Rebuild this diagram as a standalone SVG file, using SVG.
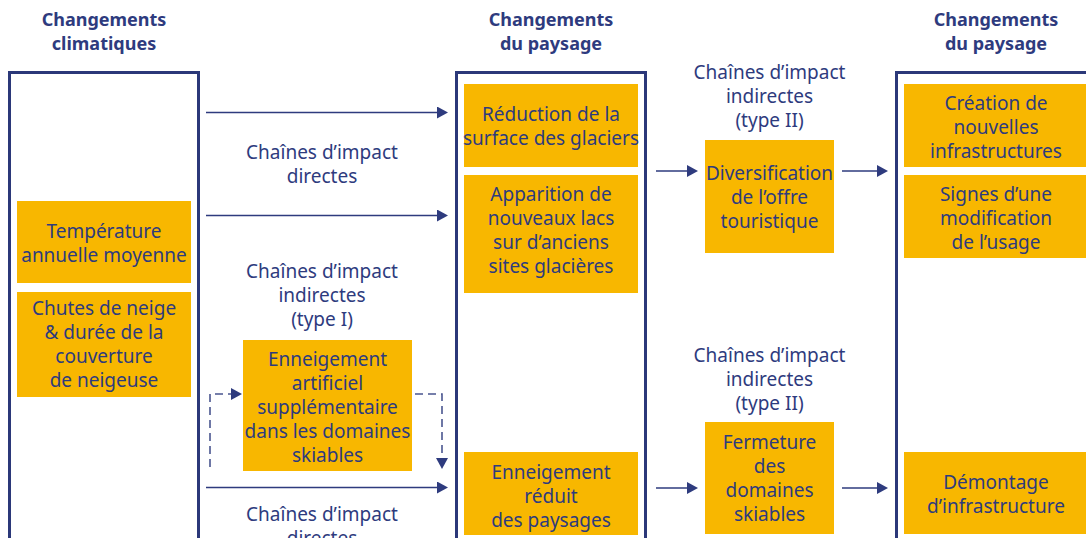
<svg xmlns="http://www.w3.org/2000/svg" width="1086" height="538" viewBox="0 0 1086 538">
<defs>
<style>
.t{font-family:"Noto Sans","Open Sans","Liberation Sans",sans-serif;font-size:19px;fill:#2e3b7e;text-anchor:middle}
.h{font-family:"Noto Sans","Open Sans","Liberation Sans",sans-serif;font-size:18px;font-weight:bold;fill:#2e3b7e;text-anchor:middle}
.frame{fill:none;stroke:#2b3879;stroke-width:3}
.box{fill:#f8b700}
.arr{fill:none;stroke:#2e3b7e;stroke-width:1.6}
.dash{fill:none;stroke:#4a5690;stroke-width:1.6;stroke-dasharray:8 5}
</style>
<marker id="ah" markerUnits="userSpaceOnUse" markerWidth="12" markerHeight="12" refX="6" refY="6" orient="auto" viewBox="0 0 12 12">
<path d="M0,0 L11,6 L0,12 z" fill="#2e3b7e"/>
</marker>
</defs>
<rect width="1086" height="538" fill="#ffffff"/>

<g id="headers">
<text class="h" x="104" y="26">Changements</text>
<text class="h" x="104" y="50">climatiques</text>
<text class="h" x="551" y="26">Changements</text>
<text class="h" x="551" y="50">du paysage</text>
<text class="h" x="996" y="26">Changements</text>
<text class="h" x="996" y="50">du paysage</text>
</g>

<g id="frames">
<rect id="frame-climat" class="frame" x="9.5" y="72.5" width="189" height="500"/>
<rect id="frame-paysage1" class="frame" x="456.5" y="72.5" width="189" height="500"/>
<rect id="frame-paysage2" class="frame" x="896.5" y="72.5" width="250" height="500"/>
</g>

<g id="connectors">
<line class="arr" x1="206" y1="112.5" x2="443" y2="112.5" marker-end="url(#ah)"/>
<line class="arr" x1="206" y1="215.5" x2="443" y2="215.5" marker-end="url(#ah)"/>
<line class="arr" x1="206" y1="487.5" x2="443" y2="487.5" marker-end="url(#ah)"/>
<line class="arr" x1="656" y1="171" x2="693" y2="171" marker-end="url(#ah)"/>
<line class="arr" x1="842" y1="171" x2="883" y2="171" marker-end="url(#ah)"/>
<line class="arr" x1="656" y1="488" x2="693" y2="488" marker-end="url(#ah)"/>
<line class="arr" x1="842" y1="488" x2="883" y2="488" marker-end="url(#ah)"/>
<path class="dash" d="M210,467 V394 H237" marker-end="url(#ah)"/>
<path class="dash" d="M415,394 H442 V464" marker-end="url(#ah)"/>
</g>

<g id="labels">
<text class="t" x="322" y="159">Chaînes d’impact</text>
<text class="t" x="322" y="183">directes</text>
<text class="t" x="322" y="278">Chaînes d’impact</text>
<text class="t" x="322" y="302">indirectes</text>
<text class="t" x="322" y="326">(type I)</text>
<text class="t" x="322" y="521">Chaînes d’impact</text>
<text class="t" x="322" y="545">directes</text>
<text class="t" x="769.5" y="79">Chaînes d’impact</text>
<text class="t" x="769.5" y="103">indirectes</text>
<text class="t" x="769.5" y="127">(type II)</text>
<text class="t" x="769.5" y="362">Chaînes d’impact</text>
<text class="t" x="769.5" y="386">indirectes</text>
<text class="t" x="769.5" y="410">(type II)</text>
</g>

<g id="temperature">
<rect class="box" x="17" y="201" width="174" height="82"/>
<text class="t" x="104" y="238">Température</text>
<text class="t" x="104" y="262">annuelle moyenne</text>
</g>
<g id="chutes-neige">
<rect class="box" x="17" y="292" width="174" height="105"/>
<text class="t" x="104" y="315">Chutes de neige</text>
<text class="t" x="104" y="339">&amp; durée de la</text>
<text class="t" x="104" y="363">couverture</text>
<text class="t" x="104" y="387">de neigeuse</text>
</g>
<g id="enneigement-artificiel">
<rect class="box" x="243" y="340" width="169" height="131"/>
<text class="t" x="327.5" y="366">Enneigement</text>
<text class="t" x="327.5" y="390">artificiel</text>
<text class="t" x="327.5" y="414">supplémentaire</text>
<text class="t" x="327.5" y="438">dans les domaines</text>
<text class="t" x="327.5" y="462">skiables</text>
</g>
<g id="reduction-glaciers">
<rect class="box" x="464" y="84" width="174" height="83"/>
<text class="t" x="551" y="121">Réduction de la</text>
<text class="t" x="551" y="145">surface des glaciers</text>
</g>
<g id="nouveaux-lacs">
<rect class="box" x="464" y="175" width="174" height="118"/>
<text class="t" x="551" y="201">Apparition de</text>
<text class="t" x="551" y="225">nouveaux lacs</text>
<text class="t" x="551" y="249">sur d’anciens</text>
<text class="t" x="551" y="273">sites glacières</text>
</g>
<g id="enneigement-reduit">
<rect class="box" x="464" y="452" width="174" height="83"/>
<text class="t" x="551" y="479">Enneigement</text>
<text class="t" x="551" y="503">réduit</text>
<text class="t" x="551" y="527">des paysages</text>
</g>
<g id="diversification">
<rect class="box" x="705" y="140" width="129" height="113"/>
<text class="t" x="769.5" y="180">Diversification</text>
<text class="t" x="769.5" y="204">de l’offre</text>
<text class="t" x="769.5" y="228">touristique</text>
</g>
<g id="fermeture">
<rect class="box" x="705" y="422" width="129" height="112"/>
<text class="t" x="769.5" y="449">Fermeture</text>
<text class="t" x="769.5" y="473">des</text>
<text class="t" x="769.5" y="497">domaines</text>
<text class="t" x="769.5" y="521">skiables</text>
</g>
<g id="creation-infrastructures">
<rect class="box" x="904" y="84" width="186" height="83"/>
<text class="t" x="996" y="110">Création de</text>
<text class="t" x="996" y="134">nouvelles</text>
<text class="t" x="996" y="158">infrastructures</text>
</g>
<g id="modification-usage">
<rect class="box" x="904" y="175" width="186" height="83"/>
<text class="t" x="996" y="201">Signes d’une</text>
<text class="t" x="996" y="225">modification</text>
<text class="t" x="996" y="249">de l’usage</text>
</g>
<g id="demontage">
<rect class="box" x="904" y="452" width="186" height="82"/>
<text class="t" x="996" y="489">Démontage</text>
<text class="t" x="996" y="513">d’infrastructure</text>
</g>
</svg>
